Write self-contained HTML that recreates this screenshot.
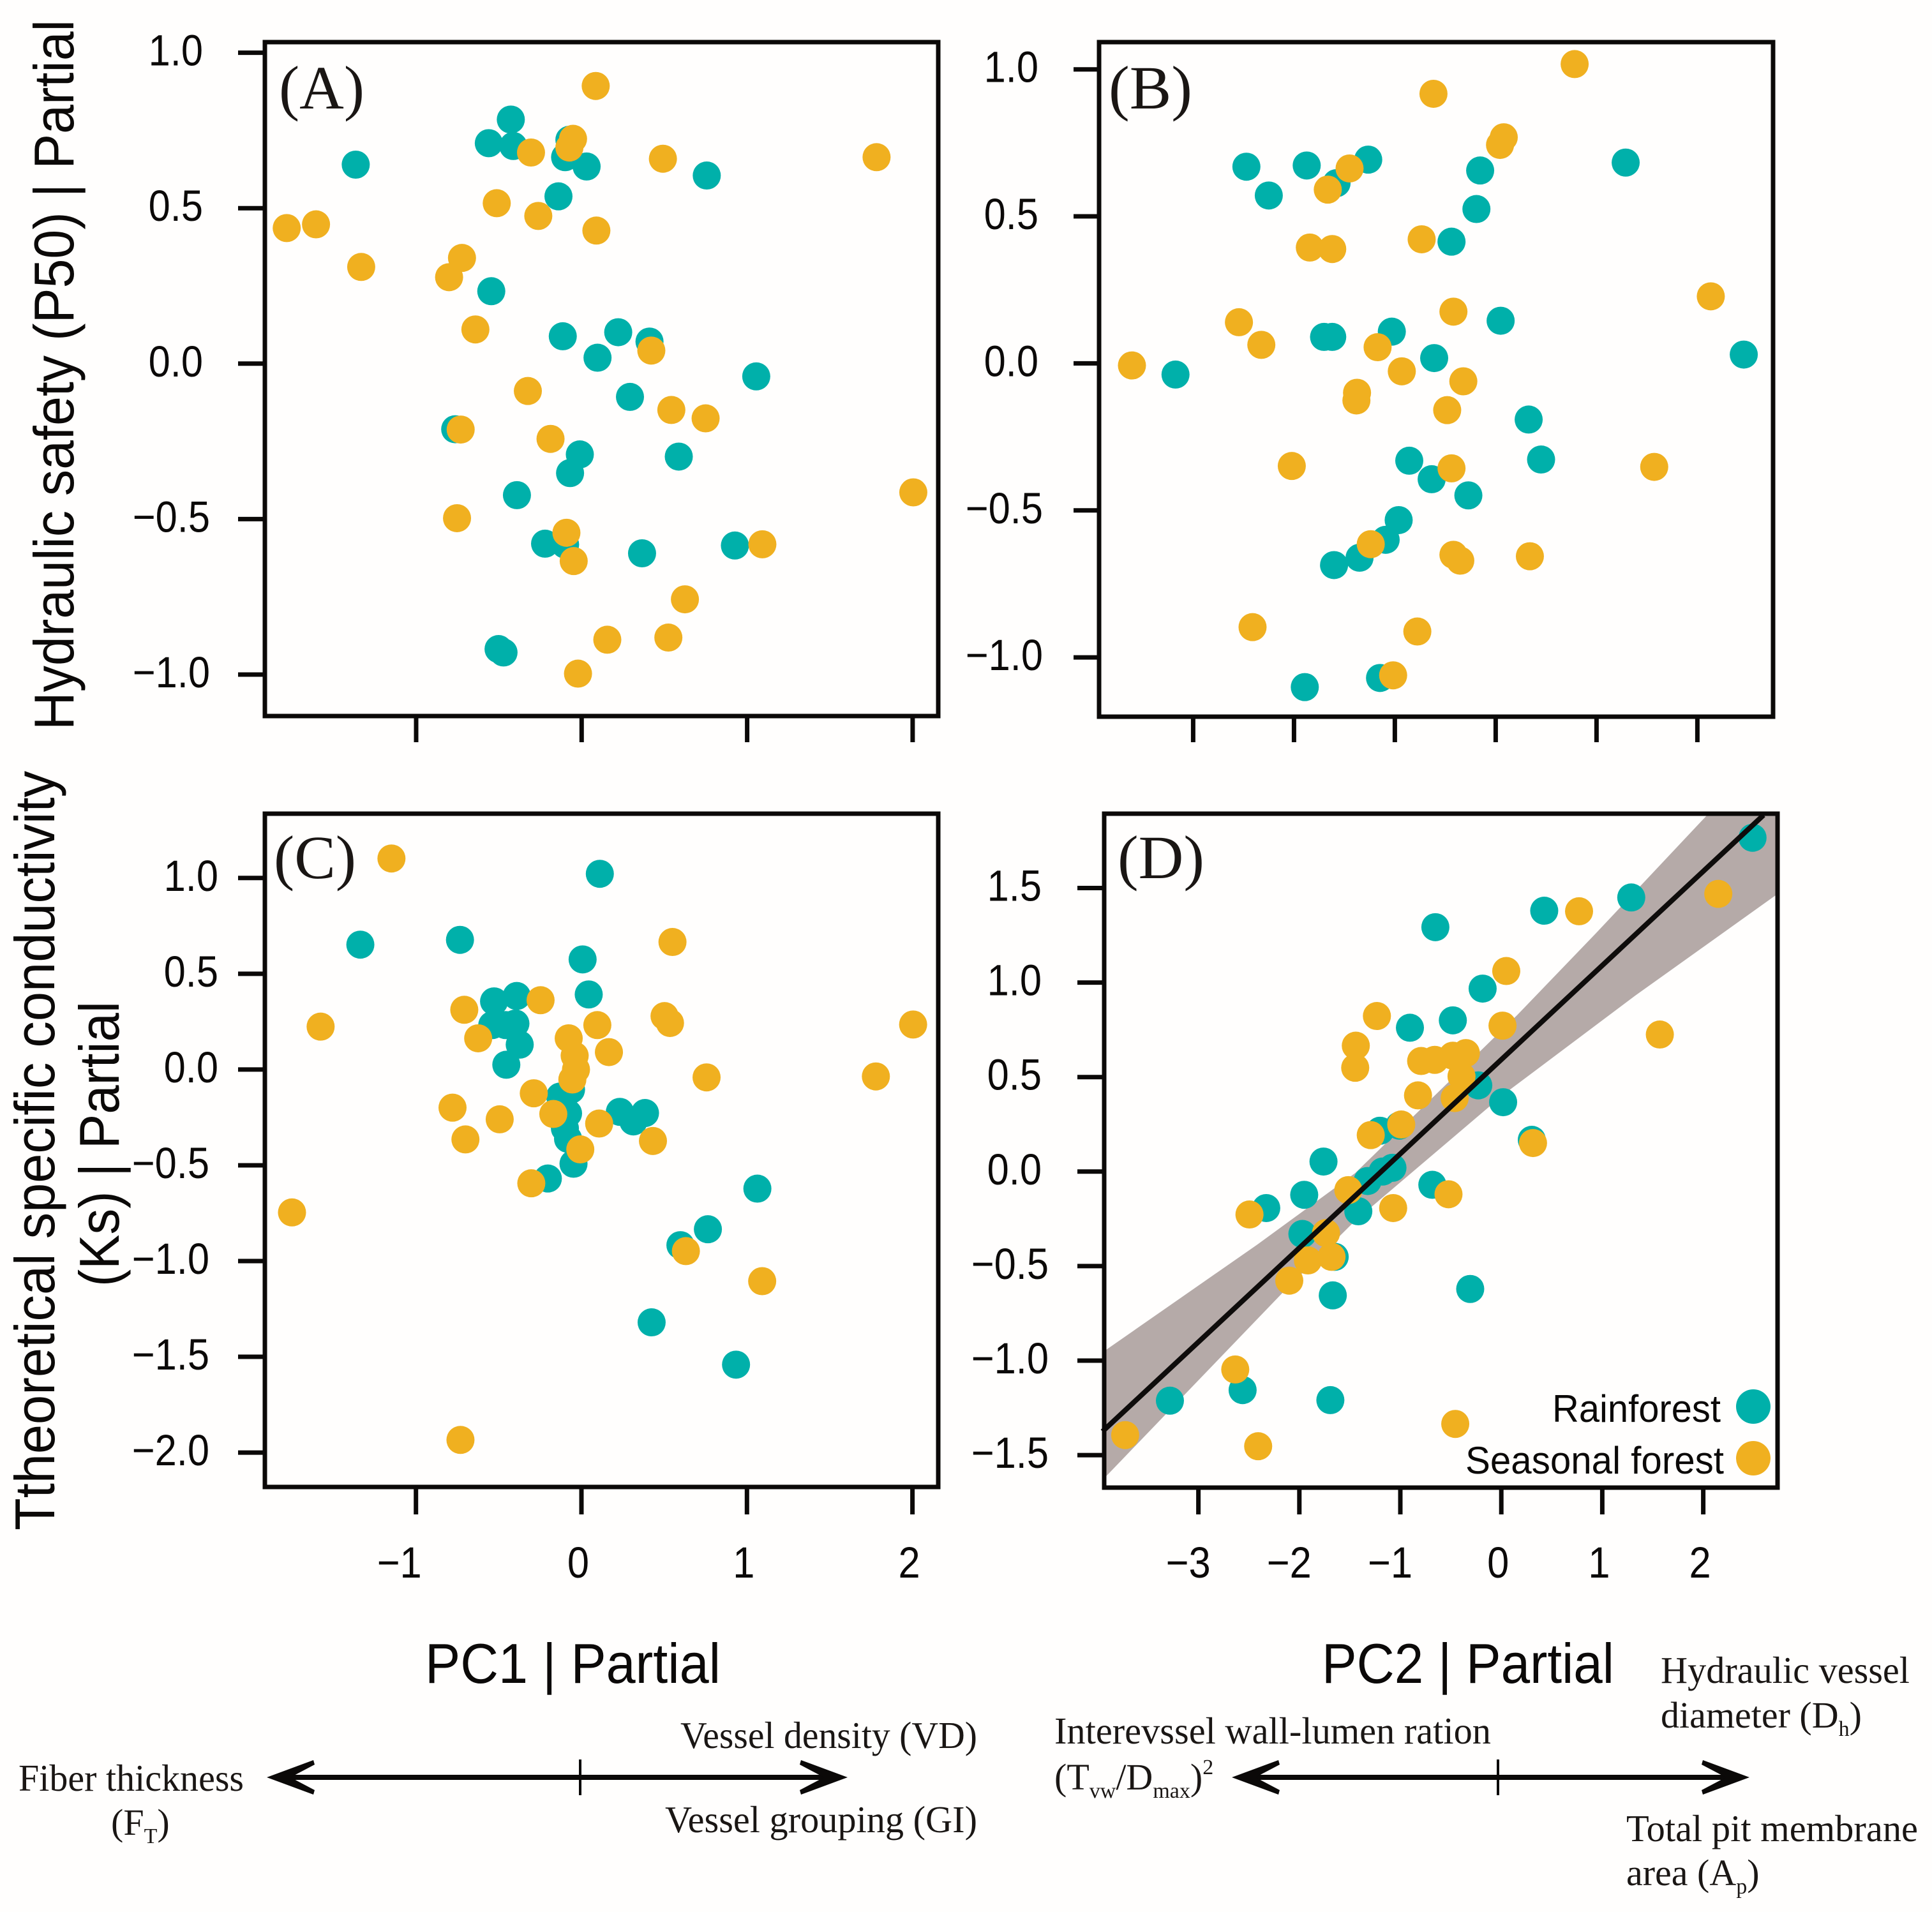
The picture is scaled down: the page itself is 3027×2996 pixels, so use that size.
<!DOCTYPE html>
<html lang="en">
<head>
<meta charset="utf-8">
<title>Hydraulic safety and conductivity partial regressions</title>
<style>
html,body{margin:0;padding:0;background:#fffefd;}
svg{display:block;}
.sans{font-family:"Liberation Sans",sans-serif;fill:#0b0908;}
.serif{font-family:"Liberation Serif",serif;fill:#1a1614;}
</style>
</head>
<body>
<svg id="chart" xmlns="http://www.w3.org/2000/svg" width="3027" height="2996" viewBox="0 0 3027 2996">
  <rect x="0" y="0" width="3027" height="2996" fill="#fffefd"/>
  <defs>
    <clipPath id="clip-d"><rect x="1730" y="1275" width="1055" height="1056"/></clipPath>
  </defs>
  <g id="layer-band"></g>
  <g id="layer-points"></g>
  <g id="layer-line"></g>
  <g id="layer-axes"></g>

  <text class="serif" x="437" y="170" font-size="96" textLength="134" lengthAdjust="spacingAndGlyphs">(A)</text>
  <text class="serif" x="1737" y="170" font-size="96" textLength="131" lengthAdjust="spacingAndGlyphs">(B)</text>
  <text class="serif" x="429" y="1376" font-size="96" textLength="129" lengthAdjust="spacingAndGlyphs">(C)</text>
  <text class="serif" x="1751" y="1376" font-size="96" textLength="136" lengthAdjust="spacingAndGlyphs">(D)</text>

  <text class="sans" transform="translate(115,1144) rotate(-90)" font-size="88" textLength="1113" lengthAdjust="spacingAndGlyphs">Hydraulic safety (P50) | Partial</text>
  <text class="sans" transform="translate(85,2398) rotate(-90)" font-size="88" textLength="1190" lengthAdjust="spacingAndGlyphs">Ttheoretical specific conductivity</text>
  <text class="sans" transform="translate(186,2016) rotate(-90)" font-size="88" textLength="447" lengthAdjust="spacingAndGlyphs">(Ks) | Partial</text>

  <text class="sans" x="666" y="2637" font-size="88" textLength="463" lengthAdjust="spacingAndGlyphs">PC1 | Partial</text>
  <text class="sans" x="2071" y="2637" font-size="88" textLength="458" lengthAdjust="spacingAndGlyphs">PC2 | Partial</text>

  <g>
    <text class="sans" x="2696" y="2228" font-size="60" text-anchor="end" textLength="264" lengthAdjust="spacingAndGlyphs">Rainforest</text>
    <circle cx="2747" cy="2204" r="27" fill="#00b0aa"/>
    <text class="sans" x="2701" y="2309" font-size="60" text-anchor="end" textLength="405" lengthAdjust="spacingAndGlyphs">Seasonal forest</text>
    <circle cx="2747" cy="2285" r="27" fill="#f0b020"/>
  </g>

  <g>
    <rect x="440" y="2781" width="866" height="8" fill="#0b0908"/>
    <polygon points="418,2785 491,2758 493,2765 455,2785 493,2805 491,2812" fill="#0b0908"/>
    <polygon points="1328,2785 1255,2758 1253,2765 1291,2785 1253,2805 1255,2812" fill="#0b0908"/>
    <line x1="909" y1="2757" x2="909" y2="2813" stroke="#0b0908" stroke-width="4"/>
  </g>
  <g>
    <rect x="1950" y="2781" width="770" height="8" fill="#0b0908"/>
    <polygon points="1930,2785 2003,2758 2005,2765 1967,2785 2005,2805 2003,2812" fill="#0b0908"/>
    <polygon points="2741,2785 2668,2758 2666,2765 2704,2785 2666,2805 2668,2812" fill="#0b0908"/>
    <line x1="2347" y1="2757" x2="2347" y2="2813" stroke="#0b0908" stroke-width="4"/>
  </g>

  <text class="serif" x="29" y="2806" font-size="59" textLength="353" lengthAdjust="spacingAndGlyphs">Fiber thickness</text>
  <text class="serif" x="174" y="2875" font-size="58">(F<tspan font-size="34" dy="13">T</tspan><tspan dy="-13">)</tspan></text>
  <text class="serif" x="1066" y="2739" font-size="59" textLength="465" lengthAdjust="spacingAndGlyphs">Vessel density (VD)</text>
  <text class="serif" x="1042" y="2871" font-size="59" textLength="489" lengthAdjust="spacingAndGlyphs">Vessel grouping (GI)</text>
  <text class="serif" x="1652" y="2732" font-size="59" textLength="684" lengthAdjust="spacingAndGlyphs">Interevssel wall-lumen ration</text>
  <text class="serif" x="1652" y="2804" font-size="58">(T<tspan font-size="34" dy="13">vw</tspan><tspan dy="-13">/D</tspan><tspan font-size="34" dy="13">max</tspan><tspan dy="-13">)</tspan><tspan font-size="34" dy="-24">2</tspan></text>
  <text class="serif" x="2602" y="2637" font-size="59" textLength="390" lengthAdjust="spacingAndGlyphs">Hydraulic vessel</text>
  <text class="serif" x="2602" y="2707" font-size="58">diameter (D<tspan font-size="34" dy="13">h</tspan><tspan dy="-13">)</tspan></text>
  <text class="serif" x="2548" y="2885" font-size="59" textLength="457" lengthAdjust="spacingAndGlyphs">Total pit membrane</text>
  <text class="serif" x="2548" y="2954" font-size="58">area (A<tspan font-size="34" dy="13">p</tspan><tspan dy="-13">)</tspan></text>
</svg>

<script>
const pc1Ticks = [-1, 0, 1, 2];
const pc2Ticks = [-3, -2, -1, 0, 1, 2];
const safetyTicksA = [1.0, 0.5, 0.0, -0.5, -1.0];
const safetyTicksB = [1.0, 0.5, 0.0, -0.5, -1.0];
const conductivityTicksC = [1.0, 0.5, 0.0, -0.5, -1.0, -1.5, -2.0];
const conductivityTicksD = [1.5, 1.0, 0.5, 0.0, -0.5, -1.0, -1.5];

const aRainX = [-1.365,-0.428,-0.561,-0.413,-0.074,-0.100,0.030,0.756,-0.140,-0.546,-0.114,0.221,0.410,0.096,1.055,0.292,-0.764,-0.011,0.587,-0.070,-0.391,-0.221,-0.100,0.365,0.926,-0.502,-0.472];
const aRainY = [0.640,0.785,0.709,0.700,0.720,0.664,0.634,0.605,0.538,0.233,0.088,0.101,0.071,0.019,-0.041,-0.107,-0.211,-0.292,-0.299,-0.352,-0.423,-0.579,-0.582,-0.610,-0.585,-0.918,-0.929];
const aSeasonX = [0.085,1.782,0.491,-0.052,-0.074,-0.306,-0.513,-0.262,0.089,-1.782,-1.605,-1.332,-0.723,-0.801,-0.642,0.421,-0.325,0.542,0.749,-0.731,-0.188,2.004,-0.753,-0.092,-0.048,1.092,0.624,0.524,0.155,-0.022];
const aSeasonY = [0.893,0.664,0.659,0.723,0.695,0.679,0.516,0.475,0.428,0.436,0.448,0.311,0.340,0.278,0.110,0.042,-0.088,-0.149,-0.176,-0.212,-0.242,-0.414,-0.497,-0.544,-0.635,-0.581,-0.758,-0.881,-0.888,-0.997];

const bRainX = [-2.472,-1.874,-2.250,-1.578,-1.264,-0.154,1.289,-0.191,-0.438,-1.702,-1.621,-1.030,0.049,-0.610,2.460,-3.175,0.327,0.450,-0.857,-0.635,-0.271,-0.962,-1.091,-1.350,-1.603,-1.147,-1.893];
const bRainY = [0.669,0.673,0.571,0.613,0.693,0.656,0.683,0.525,0.414,0.090,0.090,0.108,0.145,0.018,0.030,-0.038,-0.191,-0.327,-0.331,-0.394,-0.449,-0.533,-0.600,-0.661,-0.686,-1.070,-1.101];
const bSeasonX = [0.783,-0.617,0.080,0.043,-1.449,-1.665,-0.734,-1.843,-1.621,2.133,-0.419,-2.546,-2.324,-1.171,-3.607,-0.931,-0.321,-1.375,-1.381,-0.481,-2.022,-0.438,1.572,-1.239,-0.419,-0.351,0.339,-2.411,-0.777,-1.017];
const bSeasonY = [1.018,0.917,0.769,0.743,0.663,0.591,0.422,0.394,0.389,0.228,0.176,0.140,0.063,0.055,-0.007,-0.027,-0.061,-0.100,-0.126,-0.159,-0.349,-0.357,-0.352,-0.615,-0.651,-0.671,-0.656,-0.897,-0.912,-1.061];

const cRainX = [0.111,-1.336,-0.734,0.007,0.044,-0.528,-0.391,-0.539,-0.458,-0.399,-0.373,-0.454,-0.063,-0.129,-0.081,-0.100,-0.081,-0.048,-0.203,0.232,0.314,0.384,1.063,0.764,0.598,0.424,0.934];
const cRainY = [1.022,0.652,0.677,0.575,0.392,0.356,0.384,0.232,0.232,0.240,0.130,0.025,-0.105,-0.141,-0.229,-0.307,-0.362,-0.492,-0.569,-0.221,-0.271,-0.227,-0.622,-0.834,-0.917,-1.320,-1.541];
const cSeasonX = [-1.148,0.550,-0.708,-0.247,-1.576,0.502,0.535,2.004,0.096,-0.624,-0.077,0.166,-0.041,-0.033,-0.055,0.756,1.779,-0.288,-0.779,-0.170,-0.494,0.107,-0.701,0.432,-0.007,-0.303,-1.749,0.631,1.092,-0.731];
const cSeasonY = [1.102,0.666,0.312,0.362,0.224,0.279,0.243,0.235,0.232,0.163,0.163,0.091,0.072,0.000,-0.052,-0.041,-0.036,-0.124,-0.199,-0.232,-0.260,-0.282,-0.365,-0.373,-0.417,-0.594,-0.746,-0.948,-1.105,-1.934];

const dRainX = [2.488,1.287,0.425,-0.653,-0.185,-0.480,-0.905,-0.228,0.018,-1.201,-1.010,0.302,-1.761,-1.324,-1.176,-1.078,-0.683,-1.952,-2.328,-1.416,-1.970,-1.650,-1.669,-0.308,-3.282,-2.562,-1.693];
const dRainY = [1.766,1.450,1.380,1.293,0.968,0.800,0.761,0.456,0.367,0.216,0.243,0.168,0.053,-0.050,0.000,0.020,-0.070,-0.123,-0.193,-0.210,-0.330,-0.451,-0.655,-0.621,-1.212,-1.156,-1.209];
const dSeasonX = [2.149,0.770,0.049,-1.232,0.012,1.570,-1.441,-1.447,-0.794,-0.659,-0.480,-0.351,-0.394,-0.462,-0.825,-0.991,-1.293,0.314,-1.515,-1.071,-0.523,-2.494,-1.736,-1.681,-1.915,-2.100,-2.635,-3.725,-2.408,-0.456];
const dSeasonY = [1.469,1.377,1.061,0.823,0.772,0.725,0.666,0.549,0.585,0.591,0.613,0.627,0.504,0.389,0.403,0.249,0.193,0.151,-0.098,-0.193,-0.120,-0.227,-0.325,-0.451,-0.470,-0.577,-1.047,-1.394,-1.453,-1.335];

const fitX = [-3.95, 2.597];
const fitY = [-1.375, 1.886];
const bandUpperX = [-3.914,-2.416,-1.447,0.154,0.934,2.021,2.75];
const bandUpperY = [-0.943,-0.386,-0.008,0.826,1.259,1.876,2.289];
const bandLowerX = [2.716,1.327,0.030,-1.447,-2.175,-3.914];
const bandLowerY = [1.461,0.931,0.411,-0.260,-0.646,-1.612];

const SVG_NS = 'http://www.w3.org/2000/svg';
const TEAL = '#00b0aa';
const ORANGE = '#f0b020';
const INK = '#0b0908';
const FONT_SIZE = 69;
const X_SQUEEZE = 0.89;
const RADIUS = 22;

function formatTick(v, digits) {
  const s = Math.abs(v).toFixed(digits);
  return v < 0 ? '\u2212' + s : s;
}

function makeScale(origin, unit) {
  return function (v) { return origin + v * unit; };
}

function makePanel(key, box, xOrigin, xUnit, yOrigin, yUnit) {
  return {
    key: key,
    box: box,
    sx: makeScale(xOrigin, xUnit),
    sy: makeScale(yOrigin, -yUnit)
  };
}

const panelA = makePanel('a', {l:415, r:1470, t:66, b:1122}, 911.3, 259.3, 569.8, 487.2);
const panelB = makePanel('b', {l:1722, r:2778, t:66, b:1123}, 2343.4, 158.0, 569.4, 460.7);
const panelC = makePanel('c', {l:415, r:1470, t:1275, b:2330}, 911.0, 259.3, 1675.9, 300.1);
const panelD = makePanel('d', {l:1730, r:2785, t:1275, b:2331}, 2352.2, 158.2, 1835.8, 296.2);

const layerBand = document.getElementById('layer-band');
const layerPoints = document.getElementById('layer-points');
const layerLine = document.getElementById('layer-line');
const layerAxes = document.getElementById('layer-axes');

function drawRainforestPoints(panel, xs, ys) {
  for (let i = 0; i < xs.length; i++) {
    const el = document.createElementNS(SVG_NS, 'circle');
    
    
    el.setAttribute('cx', panel.sx(xs[i]));
    el.setAttribute('cy', panel.sy(ys[i]));
    el.setAttribute('r', RADIUS);
    el.setAttribute('fill', TEAL);
    layerPoints.appendChild(el);
  }
}

function drawSeasonalPoints(panel, xs, ys) {
  for (let i = 0; i < xs.length; i++) {
    const el = document.createElementNS(SVG_NS, 'circle');
    
    
    el.setAttribute('cx', panel.sx(xs[i]));
    el.setAttribute('cy', panel.sy(ys[i]));
    el.setAttribute('r', RADIUS);
    el.setAttribute('fill', ORANGE);
    layerPoints.appendChild(el);
  }
}

function drawFrame(panel) {
  const el = document.createElementNS(SVG_NS, 'rect');
  
  
  el.setAttribute('x', panel.box.l);
  el.setAttribute('y', panel.box.t);
  el.setAttribute('width', panel.box.r - panel.box.l);
  el.setAttribute('height', panel.box.b - panel.box.t);
  el.setAttribute('fill', 'none');
  el.setAttribute('stroke', INK);
  el.setAttribute('stroke-width', 7);
  layerAxes.appendChild(el);
}

function drawYAxis(panel, ticks, tickLeft, posEnd, negEnd) {
  ticks.forEach(function (v) {
    const y = panel.sy(v);
    const tick = document.createElementNS(SVG_NS, 'line');
    
    
    tick.setAttribute('x1', tickLeft);
    tick.setAttribute('x2', panel.box.l);
    tick.setAttribute('y1', y);
    tick.setAttribute('y2', y);
    tick.setAttribute('stroke', INK);
    tick.setAttribute('stroke-width', 7);
    layerAxes.appendChild(tick);
    const label = document.createElementNS(SVG_NS, 'text');
    
    
    label.setAttribute('class', 'sans');
    label.setAttribute('transform', 'translate(' + (v < 0 ? negEnd : posEnd) + ',' + (y + 20) + ') scale(' + X_SQUEEZE + ',1)');
    label.setAttribute('font-size', FONT_SIZE);
    label.setAttribute('text-anchor', 'end');
    label.textContent = formatTick(v, 1);
    layerAxes.appendChild(label);
  });
}

function drawXAxis(panel, ticks, tickBottom, showLabels, posShift, negShift) {
  ticks.forEach(function (v) {
    const x = panel.sx(v);
    const tick = document.createElementNS(SVG_NS, 'line');
    
    
    tick.setAttribute('x1', x);
    tick.setAttribute('x2', x);
    tick.setAttribute('y1', panel.box.b);
    tick.setAttribute('y2', tickBottom);
    tick.setAttribute('stroke', INK);
    tick.setAttribute('stroke-width', 7);
    layerAxes.appendChild(tick);
    if (showLabels) {
      const label = document.createElementNS(SVG_NS, 'text');
      
      
      label.setAttribute('class', 'sans');
      label.setAttribute('transform', 'translate(' + (x + (v < 0 ? negShift : posShift)) + ',2472) scale(' + X_SQUEEZE + ',1)');
      label.setAttribute('font-size', FONT_SIZE);
      label.setAttribute('text-anchor', 'middle');
      label.textContent = formatTick(v, 0);
      layerAxes.appendChild(label);
    }
  });
}

function drawBand(panel) {
  const pts = [];
  bandUpperX.forEach(function (x, i) { pts.push(panel.sx(x) + ',' + panel.sy(bandUpperY[i])); });
  bandLowerX.forEach(function (x, i) { pts.push(panel.sx(x) + ',' + panel.sy(bandLowerY[i])); });
  const el = document.createElementNS(SVG_NS, 'polygon');
  
  
  el.setAttribute('points', pts.join(' '));
  el.setAttribute('fill', '#b5aaa8');
  el.setAttribute('clip-path', 'url(#clip-d)');
  layerBand.appendChild(el);
}

function drawFit(panel) {
  const el = document.createElementNS(SVG_NS, 'line');
  
  
  el.setAttribute('x1', panel.sx(fitX[0]));
  el.setAttribute('y1', panel.sy(fitY[0]));
  el.setAttribute('x2', panel.sx(fitX[1]));
  el.setAttribute('y2', panel.sy(fitY[1]));
  el.setAttribute('stroke', '#0e0c0b');
  el.setAttribute('stroke-width', 8);
  layerLine.appendChild(el);
}

drawBand(panelD);

drawRainforestPoints(panelA, aRainX, aRainY);
drawSeasonalPoints(panelA, aSeasonX, aSeasonY);
drawRainforestPoints(panelB, bRainX, bRainY);
drawSeasonalPoints(panelB, bSeasonX, bSeasonY);
drawRainforestPoints(panelC, cRainX, cRainY);
drawSeasonalPoints(panelC, cSeasonX, cSeasonY);
drawRainforestPoints(panelD, dRainX, dRainY);
drawSeasonalPoints(panelD, dSeasonX, dSeasonY);

drawFit(panelD);

drawFrame(panelA);
drawFrame(panelB);
drawFrame(panelC);
drawFrame(panelD);

drawYAxis(panelA, safetyTicksA, 373, 318, 329);
drawYAxis(panelB, safetyTicksB, 1682, 1627, 1634);
drawYAxis(panelC, conductivityTicksC, 373, 342, 328);
drawYAxis(panelD, conductivityTicksD, 1688, 1632, 1643);

drawXAxis(panelA, pc1Ticks, 1163, false, 0, 0);
drawXAxis(panelB, pc2Ticks, 1163, false, 0, 0);
drawXAxis(panelC, pc1Ticks, 2373, true, -5, -26);
drawXAxis(panelD, pc2Ticks, 2373, true, -5, -16);
</script>
</body>
</html>
